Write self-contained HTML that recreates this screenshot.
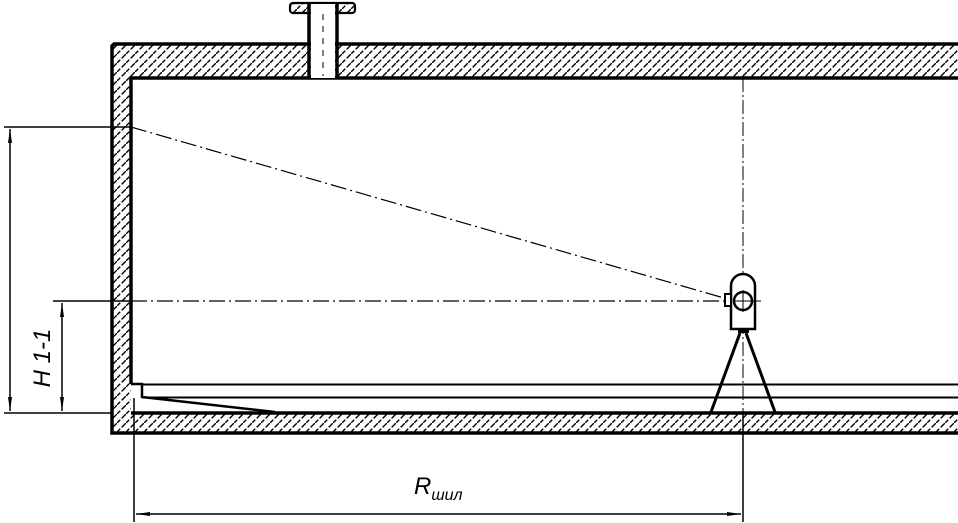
<!DOCTYPE html>
<html><head><meta charset="utf-8"><style>
html,body{margin:0;padding:0;background:#fff;width:958px;height:523px;overflow:hidden}
</style></head><body>
<svg width="958" height="523" viewBox="0 0 958 523" xmlns="http://www.w3.org/2000/svg">
<defs>
<pattern id="h" patternUnits="userSpaceOnUse" width="9" height="9">
<rect width="9" height="9" fill="#fff"/>
<path d="M-1,10 L10,-1" stroke="#000" stroke-width="1.4" stroke-dasharray="6,2"/>
</pattern>
<marker id="a" markerWidth="14" markerHeight="6" refX="14" refY="3" orient="auto" markerUnits="userSpaceOnUse">
<path d="M0,1 L14,3 L0,5 Z" fill="#000"/>
</marker>
<marker id="b" markerWidth="14" markerHeight="6" refX="0" refY="3" orient="auto" markerUnits="userSpaceOnUse">
<path d="M14,1 L0,3 L14,5 Z" fill="#000"/>
</marker>
</defs>
<path d="M958,44 L112,44 L112,433 L958,433 L958,413 L131,413 L131,78 L958,78 Z" fill="url(#h)"/>
<path d="M958,44 L114,44 L112,46 L112,433 L958,433" fill="none" stroke="#000" stroke-width="3.5"/>
<path d="M958,78 L131,78 L131,384" fill="none" stroke="#000" stroke-width="3.5"/>
<line x1="131" y1="413" x2="958" y2="413" stroke="#000" stroke-width="3.5"/>
<path d="M131,384 L142,384 L142,397 L275,412 Z" fill="#fff"/>
<path d="M131,384 L142,384 L142,397 L275,412" fill="none" stroke="#000" stroke-width="2.5"/>
<line x1="142" y1="384.5" x2="958" y2="384.5" stroke="#000" stroke-width="2"/>
<line x1="142" y1="397.5" x2="958" y2="397.5" stroke="#000" stroke-width="2"/>
<rect x="290" y="3" width="65" height="10" rx="3" fill="url(#h)" stroke="#000" stroke-width="2.2"/>
<rect x="311" y="4" width="24" height="74" fill="#fff"/>
<line x1="309" y1="4" x2="309" y2="78" stroke="#000" stroke-width="3.5"/>
<line x1="337" y1="4" x2="337" y2="78" stroke="#000" stroke-width="3.5"/>
<line x1="323" y1="14" x2="323" y2="76" stroke="#000" stroke-width="1" stroke-dasharray="6,6"/>
<line x1="743" y1="78" x2="743" y2="412" stroke="#000" stroke-width="1" stroke-dasharray="14,3,2,3"/>
<line x1="743" y1="413" x2="743" y2="522" stroke="#000" stroke-width="1.5"/>
<line x1="131" y1="127" x2="724" y2="298" stroke="#000" stroke-width="1.2" stroke-dasharray="16,4,2,4"/>
<line x1="131" y1="301" x2="726" y2="301" stroke="#000" stroke-width="1.2" stroke-dasharray="16,4,2,4"/>
<path d="M711,412 L740,333 M775,412 L746,333" stroke="#000" stroke-width="3"/>
<rect x="738" y="328" width="11" height="5" fill="#000"/>
<path d="M731,329 L731,286 A12,12 0 0 1 755,286 L755,329 Z" fill="#fff" stroke="#000" stroke-width="2.5"/>
<circle cx="743" cy="301" r="9" fill="#fff" stroke="#000" stroke-width="2.5"/>
<rect x="725" y="294" width="6" height="12" fill="#fff" stroke="#000" stroke-width="2"/>
<line x1="733" y1="301" x2="761" y2="301" stroke="#000" stroke-width="1"/>
<line x1="743" y1="290" x2="743" y2="312" stroke="#000" stroke-width="1"/>
<line x1="4" y1="127" x2="131" y2="127" stroke="#000" stroke-width="1.5"/>
<line x1="4" y1="413" x2="112" y2="413" stroke="#000" stroke-width="1.5"/>
<line x1="53" y1="301" x2="131" y2="301" stroke="#000" stroke-width="1.5"/>
<line x1="10" y1="129" x2="10" y2="411" stroke="#000" stroke-width="1.5" marker-start="url(#b)" marker-end="url(#a)"/>
<line x1="62" y1="303" x2="62" y2="411" stroke="#000" stroke-width="1.5" marker-start="url(#b)" marker-end="url(#a)"/>
<text transform="translate(50,358) rotate(-90)" text-anchor="middle" font-family="Liberation Sans, sans-serif" font-style="italic" font-size="24">H 1-1</text>
<line x1="134" y1="398" x2="134" y2="522" stroke="#000" stroke-width="1.5"/>
<line x1="136" y1="514" x2="741" y2="514" stroke="#000" stroke-width="1.5" marker-start="url(#b)" marker-end="url(#a)"/>
<text x="414" y="494" font-family="Liberation Sans, sans-serif" font-style="italic" font-size="24">R<tspan font-size="16" dy="6">шил</tspan></text>
</svg>
</body></html>
